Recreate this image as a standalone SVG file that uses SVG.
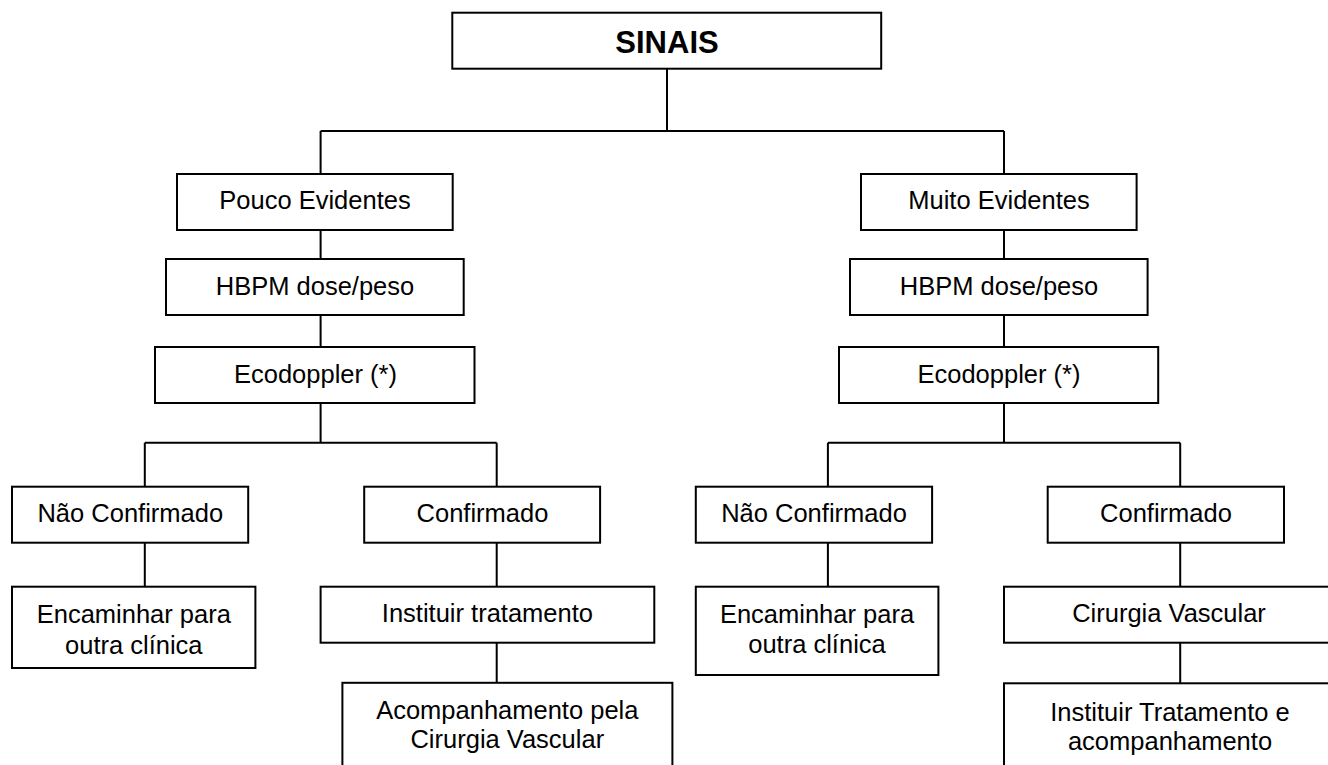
<svg xmlns="http://www.w3.org/2000/svg" width="1328" height="765" viewBox="0 0 1328 765">
<style>
.box{fill:#fff;stroke:#000;stroke-width:2}
.t{font-family:"Liberation Sans",Arial,sans-serif;font-size:25.5px;fill:#000;text-anchor:middle}
.b{font-weight:bold;font-size:31px}
.c{fill:none;stroke:#000;stroke-width:2}
</style>
<rect width="1328" height="765" fill="#fff"/>
<g id="connectors">
<path class="c" d="M667,68.7V131M320.6,131H1004M320.6,131V174M1004,131V174"/>
<path class="c" d="M320.6,230V259M320.6,315V347M320.6,403V442.7M1004,230V259M1004,315V347M1004,403V442.7"/>
<path class="c" d="M144.8,442.7H496.7M144.8,442.7V486.7M496.7,442.7V486.7M827.9,442.7H1180.2M827.9,442.7V486.7M1180.2,442.7V486.7"/>
<path class="c" d="M144.8,542.7V586.7M496.7,542.7V586.7M827.9,542.7V586.7M1180.2,542.7V586.7"/>
<path class="c" d="M496.7,642.7V683M1180.2,642.7V683.3"/>
</g>
<g id="sinais"><rect class="box" x="452.3" y="12.7" width="428.9" height="56"/><text class="t b" x="667" y="53.3">SINAIS</text></g>
<g id="pouco"><rect class="box" x="177" y="174" width="275.7" height="56"/><text class="t" x="315" y="209.3">Pouco Evidentes</text></g>
<g id="muito"><rect class="box" x="861" y="174" width="275.6" height="56"/><text class="t" x="999" y="209.3">Muito Evidentes</text></g>
<g id="hbpm-l"><rect class="box" x="166" y="259" width="297.7" height="56"/><text class="t" x="315" y="295">HBPM dose/peso</text></g>
<g id="hbpm-r"><rect class="box" x="850" y="259" width="297.6" height="56"/><text class="t" x="999" y="295">HBPM dose/peso</text></g>
<g id="eco-l"><rect class="box" x="155" y="347" width="319.5" height="56"/><text class="t" x="315.5" y="383.3">Ecodoppler (*)</text></g>
<g id="eco-r"><rect class="box" x="839" y="347" width="319.2" height="56"/><text class="t" x="999" y="383.3">Ecodoppler (*)</text></g>
<g id="nao-l"><rect class="box" x="12" y="486.7" width="236.2" height="56"/><text class="t" x="130.3" y="522.3">Não Confirmado</text></g>
<g id="conf-l"><rect class="box" x="364.2" y="486.7" width="235.9" height="56"/><text class="t" x="482.5" y="522.3">Confirmado</text></g>
<g id="nao-r"><rect class="box" x="695.8" y="486.7" width="236.3" height="56"/><text class="t" x="814" y="522.3">Não Confirmado</text></g>
<g id="conf-r"><rect class="box" x="1047.7" y="486.7" width="236.3" height="56"/><text class="t" x="1166" y="522.3">Confirmado</text></g>
<g id="enc-l"><rect class="box" x="12" y="586.7" width="243.4" height="81.3"/><text class="t" x="133.8" y="622.5">Encaminhar para</text><text class="t" x="133.8" y="653.5">outra clínica</text></g>
<g id="inst-l"><rect class="box" x="320.6" y="586.7" width="333.7" height="56"/><text class="t" x="487.4" y="621.8">Instituir tratamento</text></g>
<g id="enc-r"><rect class="box" x="695.8" y="586.7" width="242.6" height="88.3"/><text class="t" x="817" y="623">Encaminhar para</text><text class="t" x="817" y="652.5">outra clínica</text></g>
<g id="cir-r"><rect class="box" x="1004" y="586.7" width="332" height="56"/><text class="t" x="1169" y="622">Cirurgia Vascular</text></g>
<g id="acomp-l"><rect class="box" x="342.4" y="682.8" width="330" height="100"/><text class="t" x="507.3" y="719.3">Acompanhamento pela</text><text class="t" x="507.3" y="748.3">Cirurgia Vascular</text></g>
<g id="inst-r"><rect class="box" x="1004" y="683.3" width="332" height="100"/><text class="t" x="1170" y="720.5">Instituir Tratamento e</text><text class="t" x="1170" y="749.5">acompanhamento</text></g>
</svg>
